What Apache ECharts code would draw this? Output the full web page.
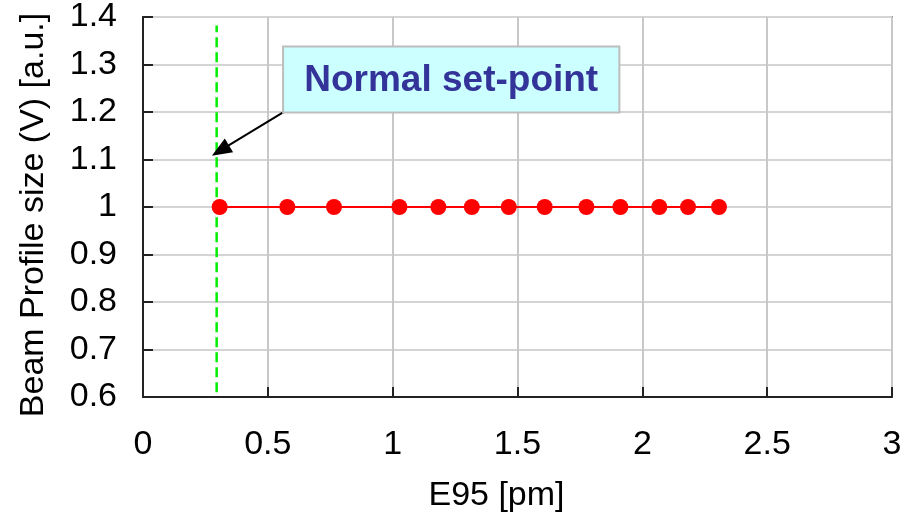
<!DOCTYPE html>
<html>
<head>
<meta charset="utf-8">
<script src="https://cdn.jsdelivr.net/npm/echarts@6/dist/echarts.min.js"></script>
<style>
  html, body { margin: 0; padding: 0; background: #fff; }
  #chart { width: 917px; height: 517px; }
</style>
</head>
<body>
<div id="chart"></div>
<script>
// Measured emittance (E95) and normalised beam profile size
var e95 = [0.307, 0.578, 0.765, 1.027, 1.183, 1.317, 1.465, 1.609, 1.776, 1.912, 2.068, 2.183, 2.307];
var profileSize = [1, 1, 1, 1, 1, 1, 1, 1, 1, 1, 1, 1, 1];

// Normal operating set-point (vertical reference line)
var setPointE95 = 0.295;
var setPointSpan = [0.61, 1.382];

// Annotation callout: arrow from the box corner to the set-point line
var calloutText = 'Normal set-point';
var arrowFrom = [0.561, 1.199];
var arrowTo = [0.31, 1.119];
var boxCorners = [[0.561, 1.199], [1.908, 1.338]];

var xTitle = 'E95 [pm]';
var yTitle = 'Beam Profile size (V) [a.u.]';

var FONT = '"Liberation Sans", Arial, sans-serif';

var chart = echarts.init(document.getElementById('chart'), null, { renderer: 'canvas' });

chart.setOption({
  animation: false,
  backgroundColor: '#ffffff',
  grid: {
    left: 143, right: 25, top: 17, bottom: 120,
    show: true, borderColor: '#8c8c8c', borderWidth: 2, backgroundColor: 'transparent'
  },
  xAxis: {
    type: 'value', min: 0, max: 3, interval: 0.5,
    axisLine: { onZero: false, lineStyle: { color: '#222', width: 2 } },
    axisTick: { inside: true, length: 10, lineStyle: { color: '#222', width: 2 } },
    axisLabel: { color: '#000', fontSize: 34, fontFamily: FONT, margin: 31 },
    splitLine: { show: true, lineStyle: { color: '#c8c8c8', width: 2 } }
  },
  yAxis: {
    type: 'value', min: 0.6, max: 1.4, interval: 0.1,
    axisLine: { onZero: false, lineStyle: { color: '#222', width: 2 } },
    axisTick: { inside: true, length: 10, lineStyle: { color: '#222', width: 2 } },
    axisLabel: {
      color: '#000', fontSize: 34, fontFamily: FONT, margin: 26,
      formatter: function (v) { return String(Math.round(v * 10) / 10); }
    },
    splitLine: { show: true, lineStyle: { color: '#d4d4d4', width: 2 } }
  },
  series: [
    {
      name: 'set-point',
      type: 'line',
      data: [[setPointE95, setPointSpan[0]], [setPointE95, setPointSpan[1]]],
      symbol: 'none',
      lineStyle: { color: '#00ee00', width: 2.5, type: [10, 5] },
      z: 2,
      markLine: {
        silent: true,
        symbol: ['none', 'triangle'],
        symbolSize: [16, 20],
        label: { show: false },
        lineStyle: { color: '#000', width: 2, type: 'solid' },
        data: [[{ coord: arrowFrom }, { coord: arrowTo }]]
      }
    },
    {
      name: 'profile',
      type: 'line',
      data: e95.map(function (x, i) { return [x, profileSize[i]]; }),
      symbol: 'circle',
      symbolSize: 16,
      itemStyle: { color: '#ff0000' },
      lineStyle: { color: '#ff0000', width: 2 },
      z: 3
    }
  ]
});

// Callout box and axis titles placed from data coordinates
var p0 = chart.convertToPixel({ gridIndex: 0 }, boxCorners[0]);
var p1 = chart.convertToPixel({ gridIndex: 0 }, boxCorners[1]);
var gridRect = chart.getModel().getComponent('grid').coordinateSystem.getRect();

chart.setOption({
  graphic: [
    {
      type: 'rect',
      shape: { x: p0[0], y: p1[1], width: p1[0] - p0[0], height: p0[1] - p1[1] },
      style: { fill: '#ccffff', stroke: '#bdbdbd', lineWidth: 2 },
      z: 10
    },
    {
      type: 'text',
      x: (p0[0] + p1[0]) / 2, y: (p0[1] + p1[1]) / 2 + 1,
      style: {
        text: calloutText, fill: '#333399', font: 'bold 37px ' + FONT,
        align: 'center', verticalAlign: 'middle'
      },
      z: 11
    },
    {
      type: 'text',
      x: gridRect.x + gridRect.width / 2 - 21, y: 496,
      style: {
        text: xTitle, fill: '#000', font: '34px ' + FONT,
        align: 'center', verticalAlign: 'middle'
      }
    },
    {
      type: 'text',
      x: 34, y: 215, rotation: Math.PI / 2,
      style: {
        text: yTitle, fill: '#000', font: '34px ' + FONT,
        align: 'center', verticalAlign: 'middle'
      }
    }
  ]
});
</script>
</body>
</html>
